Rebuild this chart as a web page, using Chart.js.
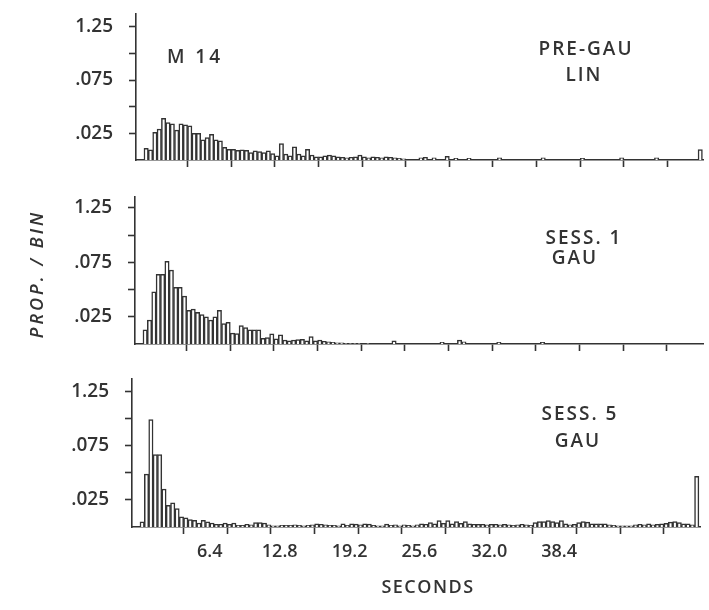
<!DOCTYPE html>
<html>
<head>
<meta charset="utf-8">
<script src="https://cdn.jsdelivr.net/npm/chart.js@4.4.0/dist/chart.umd.min.js"></script>
<style>
  body { margin: 0; background: #fff; }
  #wrap { position: relative; width: 709px; height: 610px; }
  canvas { position: absolute; left: 0; }
</style>
</head>
<body>
<div id="wrap">
  <canvas id="p1" width="709" height="180" style="top:0px"></canvas>
  <canvas id="p2" width="709" height="181" style="top:183px"></canvas>
  <canvas id="p3" width="709" height="245" style="top:365px"></canvas>
</div>
<script>
// 128 bins of 0.4 s each, last bin holds everything above
const BIN_SECONDS = 0.4;

const preGauLin = [
  0.011, 0.0095, 0.026, 0.029, 0.039, 0.035, 0.034, 0.028, 0.034, 0.033,
  0.032, 0.025, 0.025, 0.019, 0.021, 0.024, 0.019, 0.018, 0.012, 0.010,
  0.010, 0.009, 0.0096, 0.009, 0.007, 0.0087, 0.0078, 0.007, 0.0087, 0.006,
  0.004, 0.0155, 0.0056, 0.004, 0.0124, 0.0056, 0.004, 0.010, 0.0047, 0.003,
  0.003, 0.004, 0.0047, 0.004, 0.003, 0.0025, 0.002, 0.0025, 0.003, 0.0047,
  0.003, 0.002, 0.003, 0.0025, 0.002, 0.003, 0.0025, 0.002, 0.0015, 0.001,
  0, 0, 0, 0.002, 0.0025, 0, 0.002, 0, 0, 0.0034,
  0, 0.0015, 0, 0, 0.0015, 0, 0, 0, 0, 0,
  0, 0.002, 0, 0, 0, 0, 0, 0, 0, 0,
  0, 0.002, 0, 0, 0, 0, 0, 0, 0, 0,
  0.0015, 0, 0, 0, 0, 0, 0, 0, 0, 0.002,
  0, 0, 0, 0, 0, 0, 0, 0.002, 0, 0,
  0, 0, 0, 0, 0, 0, 0, 0.0097
];

const sess1Gau = [
  0.013, 0.022, 0.048, 0.064, 0.064, 0.076, 0.068, 0.052, 0.052, 0.044,
  0.031, 0.032, 0.029, 0.027, 0.025, 0.022, 0.025, 0.031, 0.0187, 0.020,
  0.010, 0.0095, 0.017, 0.015, 0.013, 0.013, 0.013, 0.0053, 0.006, 0.0093,
  0.0047, 0.0084, 0.0037, 0.003, 0.0037, 0.004, 0.0044, 0.003, 0.0068, 0.003,
  0.0037, 0.0025, 0.002, 0.0015, 0.001, 0.001, 0.0005, 0.0005, 0.0005, 0.0005,
  0, 0.0005, 0, 0, 0, 0, 0, 0.003, 0, 0,
  0, 0, 0, 0, 0, 0, 0, 0, 0.0015, 0,
  0, 0, 0.0035, 0.002, 0, 0, 0, 0, 0, 0,
  0, 0.0015, 0, 0, 0, 0, 0, 0, 0, 0,
  0, 0.0015, 0, 0, 0, 0, 0, 0, 0, 0,
  0, 0, 0, 0, 0, 0, 0, 0, 0, 0,
  0, 0, 0, 0, 0, 0, 0, 0, 0, 0,
  0, 0, 0, 0, 0, 0, 0, 0
];

const sess5Gau = [
  0.0047, 0.049, 0.0995, 0.067, 0.067, 0.035, 0.020, 0.0224, 0.017, 0.0093,
  0.0084, 0.0068, 0.0062, 0.0037, 0.0062, 0.0047, 0.0037, 0.0025, 0.0025, 0.0037,
  0.0025, 0.0037, 0.0015, 0.0015, 0.0025, 0.002, 0.004, 0.004, 0.0037, 0.002,
  0.001, 0.001, 0.0015, 0.0015, 0.0015, 0.002, 0.0015, 0.001, 0.0015, 0.002,
  0.003, 0.0025, 0.002, 0.0015, 0.0015, 0.001, 0.003, 0.0015, 0.003, 0.0028,
  0.002, 0.003, 0.0028, 0.0015, 0.001, 0.001, 0.0028, 0.0015, 0.002, 0.001,
  0.002, 0.0015, 0.001, 0.002, 0.003, 0.0025, 0.004, 0.003, 0.006, 0.0035,
  0.006, 0.003, 0.005, 0.0035, 0.005, 0.003, 0.0025, 0.0025, 0.0025, 0.002,
  0.0025, 0.0025, 0.002, 0.0025, 0.002, 0.0015, 0.002, 0.0025, 0.002, 0.0015,
  0.004, 0.005, 0.005, 0.006, 0.005, 0.004, 0.006, 0.003, 0.002, 0.0025,
  0.004, 0.005, 0.0045, 0.003, 0.003, 0.003, 0.003, 0.002, 0.0015, 0.001,
  0.001, 0.001, 0.001, 0.002, 0.0025, 0.002, 0.003, 0.002, 0.0025, 0.003,
  0.0035, 0.0045, 0.005, 0.004, 0.003, 0.003, 0.002, 0.047
];

const xTickMarks = [4, 8, 12, 16, 20, 24, 28, 32, 36, 40, 44, 48];
const xTickLabels = [6.4, 12.8, 19.2, 25.6, 32.0, 38.4];
const yTickMarks = [0.025, 0.05, 0.075, 0.1, 0.125];
const yTickText = ['.025', '', '.075', '', '1.25'];

const INK = '#333';
const FONT = "'Open Sans', 'DejaVu Sans', sans-serif";

// free text: panel notes, the shared y title and the x title
const notesPlugin = {
  id: 'notes',
  afterDraw(chart, args, opts) {
    const ctx = chart.ctx;
    ctx.save();
    ctx.fillStyle = INK;
    ctx.textAlign = 'center';
    ctx.textBaseline = 'middle';
    (opts.items || []).forEach(n => {
      ctx.save();
      ctx.font = `${n.italic ? 'italic ' : ''}600 ${n.size || 19}px ${FONT}`;
      ctx.letterSpacing = (n.spacing == null ? 2 : n.spacing) + 'px';
      ctx.translate(n.x, n.y);
      if (n.rotate) ctx.rotate(n.rotate);
      ctx.fillText(n.text, 0, 0);
      ctx.restore();
    });
    ctx.restore();
  }
};

// keep the plot area exactly where the layout puts it
function noLabelPadding(s) {
  s.paddingTop = 0;
  s.paddingBottom = 0;
  s.paddingLeft = 0;
  s.paddingRight = 0;
}

function makePanel(id, values, cfg) {
  const points = values.map((v, i) => ({ x: (i + 0.5) * BIN_SECONDS, y: v }));
  const xTicks = xTickMarks.map(v => ({ value: v, kind: 'mark' }));
  if (cfg.showLabels) {
    xTickLabels.forEach(v => xTicks.push({ value: v, kind: 'label' }));
  }

  return new Chart(document.getElementById(id), {
    type: 'bar',
    data: {
      datasets: [{
        data: points,
        backgroundColor: '#fff',
        borderColor: INK,
        borderWidth: 1.5,
        barPercentage: 1,
        categoryPercentage: 1
      }]
    },
    options: {
      responsive: false,
      animation: false,
      layout: { padding: { top: 14, right: cfg.right, left: 0, bottom: 0 } },
      plugins: {
        legend: { display: false },
        tooltip: { enabled: false },
        notes: { items: cfg.notes }
      },
      scales: {
        x: {
          type: 'linear',
          offset: false,
          min: -0.73,
          max: 51.3,
          afterBuildTicks: s => { s.ticks = xTicks.map(t => ({ ...t })); },
          afterFit: s => { s.height = cfg.xHeight; noLabelPadding(s); },
          border: { color: INK, width: 1.6 },
          grid: {
            offset: false,
            drawOnChartArea: false,
            tickLength: 7,
            tickWidth: 1.6,
            tickColor: c => (c.tick && c.tick.kind === 'mark') ? INK : 'rgba(0,0,0,0)'
          },
          ticks: {
            autoSkip: false,
            maxRotation: 0,
            padding: 7,
            color: INK,
            font: { family: FONT, size: 18, weight: 600 },
            callback: (v, i, ticks) => ticks[i].kind === 'label' ? v.toFixed(1) : ''
          }
        },
        y: {
          min: 0,
          max: cfg.yMax,
          afterBuildTicks: s => { s.ticks = yTickMarks.map(v => ({ value: v })); },
          afterFit: s => { s.width = cfg.left; noLabelPadding(s); },
          border: { color: INK, width: 1.6 },
          grid: { drawOnChartArea: false, tickLength: 7, tickWidth: 1.6, tickColor: INK },
          ticks: {
            padding: 16,
            color: INK,
            font: { family: FONT, size: 19, weight: 600 },
            callback: (v, i) => yTickText[i]
          }
        }
      }
    },
    plugins: [notesPlugin]
  });
}

makePanel('p1', preGauLin, {
  left: 136, right: 5.5, yMax: 0.137, xHeight: 20,
  notes: [
    { text: 'M 14', x: 195, y: 58, spacing: 3 },
    { text: 'PRE-GAU', x: 586, y: 50 },
    { text: 'LIN', x: 584, y: 76 }
  ]
});

makePanel('p2', sess1Gau, {
  left: 135, right: 6, yMax: 0.135, xHeight: 20,
  notes: [
    { text: 'SESS. 1', x: 584, y: 56 },
    { text: 'GAU', x: 575, y: 76 },
    { text: 'PROP. / BIN', x: 38, y: 91, size: 18, italic: true, spacing: 3, rotate: -Math.PI / 2 }
  ]
});

makePanel('p3', sess5Gau, {
  left: 132, right: 9, yMax: 0.137, xHeight: 83, showLabels: true,
  notes: [
    { text: 'SESS. 5', x: 580, y: 50 },
    { text: 'GAU', x: 578, y: 77 },
    { text: 'SECONDS', x: 428, y: 223, size: 18, spacing: 1.5 }
  ]
});
</script>
</body>
</html>
